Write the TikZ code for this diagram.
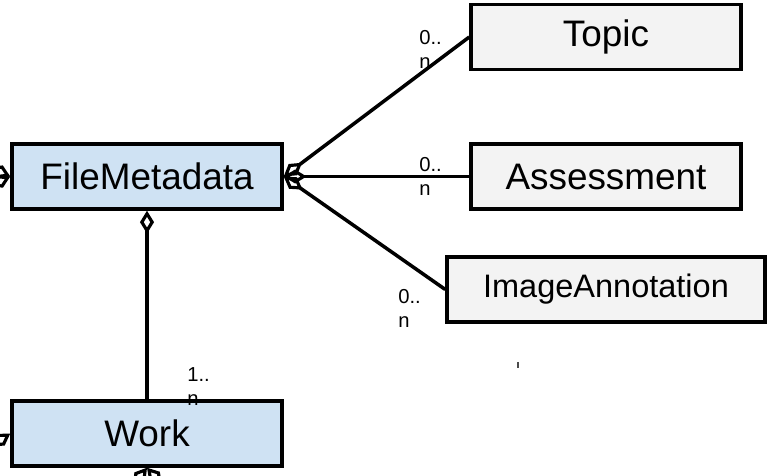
\documentclass[tikz,border=0pt]{standalone}
\usepackage{fontspec}
\setmainfont{Liberation Sans}
\usetikzlibrary{arrows.meta}

\definecolor{entblue}{HTML}{CFE2F3}
\definecolor{entgray}{HTML}{F3F3F3}

\tikzset{
  entity/.style={draw, line width=2pt, fill=entblue, minimum width=5.4cm,
    minimum height=1.3cm, inner sep=0pt, font=\fontsize{21}{24}\selectfont},
  subentity/.style={entity, fill=entgray},
  assoc/.style={line width=2pt, {Diamond[open,length=13pt,width=8pt,line width=1.8pt]}-},
  mult/.style={anchor=north west, align=left, inner sep=0pt,
    font=\fontsize{11.5}{13.6}\selectfont}
}

\begin{document}
\begin{tikzpicture}[x=0.02cm,y=-0.02cm]

\useasboundingbox (0,0) rectangle (769,476);
\clip (0,0) rectangle (769,476);

% entities
\node[entity] (meta) at (147,176.5) {FileMetadata};
\node[entity] (work) at (147,433.5) {Work};
\node[subentity] (topic) at (606,37) {Topic};
\node[subentity] (assess) at (606,176.5) {Assessment};
\node[subentity, minimum width=6.36cm, font=\fontsize{18.5}{22}\selectfont] (annot) at (606,289.5) {ImageAnnotation};

% aggregations
\draw[assoc] (meta.east) -- (topic.west);
\draw[assoc] (meta.east) -- (assess.west);
\draw[assoc] (meta.east) -- (annot.west);
\draw[assoc] (meta.south) -- (work.north);

% multiplicities
\node[mult] (mtopic) at (419,30) {0..\\n};
\node[mult] (massess) at (419,157) {0..\\n};
\node[mult] (mannot) at (398,289) {0..\\n};
\node[mult] (mwork) at (187,367) {1..\\n};
\draw[line width=0.7pt, black!70] (518,362) -- (518,368);

% links leaving the page
\coordinate (offa) at (-70,140);
\coordinate (offb) at (-70,214);
\coordinate (offc) at (-60,480);
\coordinate (offd) at (90,540);
\coordinate (offe) at (210,540);
\draw[assoc] (meta.west) -- (offa);
\draw[assoc] (meta.west) -- (offb);
\draw[assoc] (work.west) -- (offc);
\draw[assoc] (work.south) -- (offd);
\draw[assoc] (work.south) -- (offe);

\end{tikzpicture}
\end{document}
